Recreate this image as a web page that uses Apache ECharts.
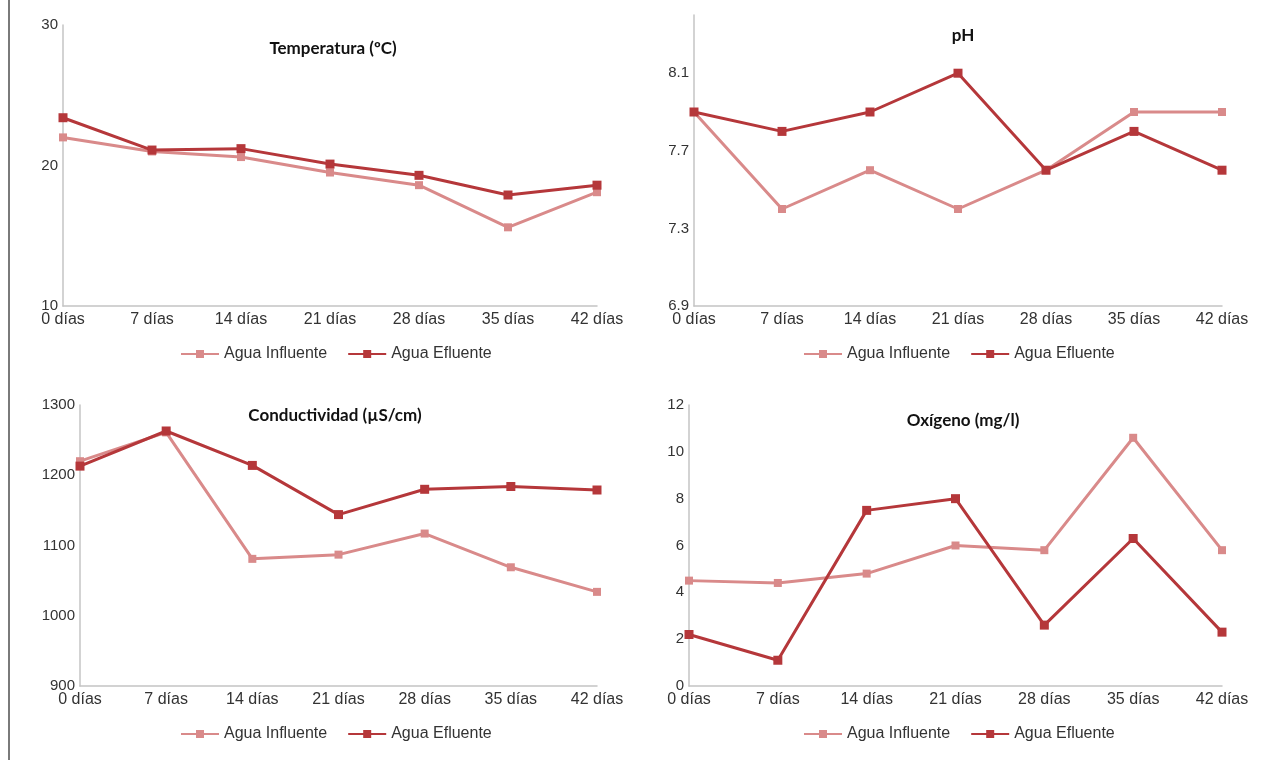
<!DOCTYPE html>
<html>
<head>
<meta charset="utf-8">
<script src="https://cdn.jsdelivr.net/npm/echarts@6/dist/echarts.min.js"></script>
<style>
html,body{margin:0;padding:0;background:#fff;}
#c{width:1267px;height:760px;}
</style>
</head>
<body>
<div id="c"></div>
<script>
const categories = ['0 días','7 días','14 días','21 días','28 días','35 días','42 días'];
const seriesNames = ['Agua Influente','Agua Efluente'];

const tempInfluente = [22.0, 21.0, 20.6, 19.5, 18.6, 15.6, 18.1];
const tempEfluente  = [23.4, 21.1, 21.2, 20.1, 19.3, 17.9, 18.6];

const phInfluente = [7.9, 7.4, 7.6, 7.4, 7.6, 7.9, 7.9];
const phEfluente  = [7.9, 7.8, 7.9, 8.1, 7.6, 7.8, 7.6];

const condInfluente = [1220, 1261, 1081, 1087, 1117, 1069, 1034];
const condEfluente  = [1213, 1263, 1214, 1144, 1180, 1184, 1179];

const oxInfluente = [4.5, 4.4, 4.8, 6.0, 5.8, 10.6, 5.8];
const oxEfluente  = [2.2, 1.1, 7.5, 8.0, 2.6, 6.3, 2.3];

const titles = ['Temperatura (ºC)', 'pH', 'Conductividad (µS/cm)', 'Oxígeno (mg/l)'];
const phTickLabels = ['6.9','7.3','7.7','8.1'];

const colInf = '#d98a8a';
const colEff = '#b5373a';

const chart = echarts.init(document.getElementById('c'));
const W = 1267, H = 760;

const grids = [
  {left: 63, top: 25, width: 534, height: 281},
  {left: 694, top: 15, width: 528, height: 291},
  {left: 80, top: 405, width: 517, height: 281},
  {left: 689, top: 405, width: 533, height: 281}
];

const xAxes = grids.map((g, i) => ({
  type: 'category', gridIndex: i, data: categories, boundaryGap: false,
  axisLine: {lineStyle: {color: '#c4c4c4', width: 1.5}},
  axisTick: {show: false},
  axisLabel: {margin: 6, interval: 0, fontFamily: 'Liberation Sans', fontSize: 16, color: '#333'},
  splitLine: {show: false}
}));

function yAxis(i, min, max, interval, fmt) {
  return {
    type: 'value', gridIndex: i, min: min, max: max, interval: interval,
    axisLine: {show: true, lineStyle: {color: '#c4c4c4', width: 1.5}},
    axisTick: {show: false},
    splitLine: {show: false},
    axisLabel: {margin: 5, formatter: fmt, fontFamily: 'Liberation Sans', fontSize: 15, color: '#333'}
  };
}
const yAxes = [
  yAxis(0, 10, 30, 10, v => String(v)),
  yAxis(1, 6.9, 8.4, 0.4, v => { const s = v.toFixed(1); return phTickLabels.indexOf(s) >= 0 ? s : ''; }),
  yAxis(2, 900, 1300, 100, v => String(v)),
  yAxis(3, 0, 12, 2, v => String(v))
];

const data = [
  [tempInfluente, tempEfluente],
  [phInfluente, phEfluente],
  [condInfluente, condEfluente],
  [oxInfluente, oxEfluente]
];

const series = [];
data.forEach((pair, i) => {
  pair.forEach((vals, j) => {
    series.push({
      name: seriesNames[j], type: 'line', xAxisIndex: i, yAxisIndex: i,
      data: vals, symbol: 'rect', symbolSize: j === 0 ? 8 : 9,
      lineStyle: {color: j === 0 ? colInf : colEff, width: 3},
      itemStyle: {color: j === 0 ? colInf : colEff},
      z: j === 0 ? 2 : 3
    });
  });
});

const titleCfg = [
  {text: titles[0], left: 328, top: 35},
  {text: titles[1], left: 958, top: 22},
  {text: titles[2], left: 330, top: 402},
  {text: titles[3], left: 958, top: 407}
].map(t => ({
  text: t.text, left: t.left, top: t.top, textAlign: 'center',
  textStyle: {fontFamily: 'Lato', fontWeight: 'bold', fontSize: 17, color: '#111'}
}));

const legendPos = [
  {left: 175, top: 341},
  {left: 798, top: 341},
  {left: 175, top: 721},
  {left: 798, top: 721}
];
const legends = legendPos.map(p => ({
  data: seriesNames, left: p.left, top: p.top,
  itemWidth: 38, itemHeight: 10, itemGap: 20,
  textStyle: {fontFamily: 'Liberation Sans', fontSize: 16, color: '#333'}
}));

chart.setOption({
  animation: false,
  title: titleCfg,
  legend: legends,
  grid: grids,
  xAxis: xAxes,
  yAxis: yAxes,
  series: series,
  graphic: [{
    type: 'rect', shape: {x: 8, y: 0, width: 2, height: H},
    style: {fill: '#7a7a7a'}
  }]
});
</script>
</body>
</html>
